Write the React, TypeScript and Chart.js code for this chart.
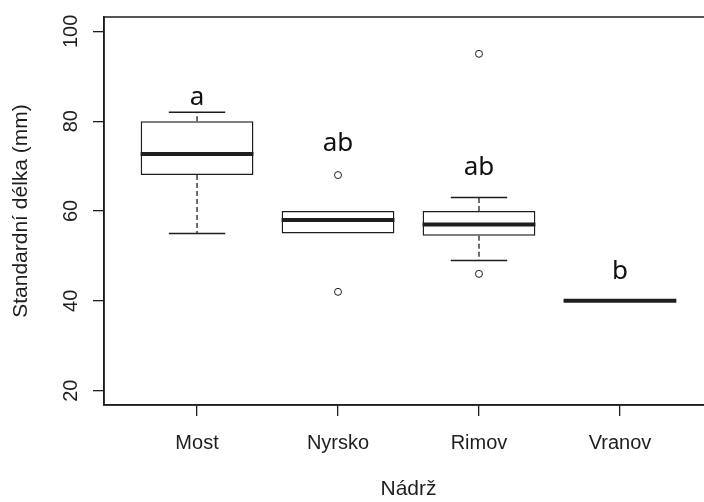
import React, { useEffect, useRef } from 'react';
import { Chart, registerables } from 'chart.js';

Chart.register(...registerables);

const categories = ['Most', 'Nyrsko', 'Rimov', 'Vranov'];
const whiskerLow = [55, 55, 49, 40];
const q1 = [68, 55, 54.5, 40];
const medians = [72.7, 58, 57, 40];
const q3 = [80, 60, 60, 40];
const whiskerHigh = [82, 60, 63, 40];
const outlierGroup = [2, 2, 3, 3];
const outlierValues = [68, 42, 95, 46];
const groupLetters = ['a', 'ab', 'ab', 'b'];
const letterValues = [83.6, 73.3, 68, 44.9];
const yTicks = [20, 40, 60, 80, 100];

const INK = '#1e1e1e';
const TICK_FONT = { family: '"Liberation Sans", Arial, sans-serif', size: 20 };
const TITLE_FONT = { family: '"Liberation Sans", Arial, sans-serif', size: 21 };

export default function App() {
  const ref = useRef<HTMLCanvasElement>(null);

  useEffect(() => {
    if (!ref.current) return;

    const boxExtras = {
      id: 'boxExtras',
      afterDatasetsDraw(chart: any) {
        const { ctx, scales, chartArea } = chart;
        const x = scales.x;
        const y = scales.y;
        ctx.save();
        ctx.strokeStyle = INK;
        categories.forEach((_, i) => {
          const v = i + 1;
          const cx = x.getPixelForValue(v);
          const capHalf = x.getPixelForValue(v + 0.2) - cx;
          const boxHalf = x.getPixelForValue(v + 0.4) - cx;
          // whiskers (dashed)
          ctx.lineWidth = 1.3;
          ctx.setLineDash([5, 3]);
          ctx.beginPath();
          ctx.moveTo(cx, y.getPixelForValue(q3[i]));
          ctx.lineTo(cx, y.getPixelForValue(whiskerHigh[i]));
          ctx.moveTo(cx, y.getPixelForValue(q1[i]));
          ctx.lineTo(cx, y.getPixelForValue(whiskerLow[i]));
          ctx.stroke();
          // caps (hidden under the box edge when whisker equals the quartile)
          ctx.setLineDash([]);
          ctx.lineWidth = 1.5;
          ctx.beginPath();
          if (whiskerHigh[i] !== q3[i]) {
            const yh = y.getPixelForValue(whiskerHigh[i]);
            ctx.moveTo(cx - capHalf, yh);
            ctx.lineTo(cx + capHalf, yh);
          }
          if (whiskerLow[i] !== q1[i]) {
            const yl = y.getPixelForValue(whiskerLow[i]);
            ctx.moveTo(cx - capHalf, yl);
            ctx.lineTo(cx + capHalf, yl);
          }
          ctx.stroke();
          // median
          ctx.lineWidth = 4;
          ctx.beginPath();
          const ym = y.getPixelForValue(medians[i]);
          ctx.moveTo(cx - boxHalf, ym);
          ctx.lineTo(cx + boxHalf, ym);
          ctx.stroke();
          // group letters
          ctx.fillStyle = '#111';
          ctx.font = '26px "Noto Sans", sans-serif';
          ctx.textAlign = 'center';
          ctx.textBaseline = 'alphabetic';
          ctx.fillText(groupLetters[i], cx, y.getPixelForValue(letterValues[i]));
        });
        // plot frame
        ctx.lineWidth = 1.5;
        ctx.strokeRect(chartArea.left, chartArea.top, chartArea.right - chartArea.left, chartArea.bottom - chartArea.top);
        ctx.restore();
      },
    };

    const chart = new Chart(ref.current, {
      type: 'bar',
      data: {
        datasets: [
          {
            type: 'bar',
            data: categories.map((_, i) => ({ x: i + 1, y: [q1[i], q3[i]] })) as any,
            backgroundColor: '#ffffff',
            borderColor: INK,
            borderWidth: 1.5,
            borderSkipped: false,
            barPercentage: 0.8,
            categoryPercentage: 1,
          } as any,
          {
            type: 'scatter',
            data: outlierValues.map((v, i) => ({ x: outlierGroup[i], y: v })),
            pointRadius: 3.5,
            pointBackgroundColor: 'rgba(0,0,0,0)',
            pointBorderColor: INK,
            pointBorderWidth: 1,
          } as any,
        ],
      },
      options: {
        animation: false,
        responsive: false,
        events: [],
        layout: { padding: { top: 15, right: 7, left: 0, bottom: 0 } },
        plugins: { legend: { display: false }, tooltip: { enabled: false } },
        scales: {
          x: {
            type: 'linear',
            min: 0.34,
            max: 4.66,
            offset: false,
            afterBuildTicks: (scale: any) => {
              scale.ticks = categories.map((_, i) => ({ value: i + 1 }));
            },
            afterFit: (scale: any) => {
              scale.height = 97;
            },
            ticks: {
              callback: (v: any) => categories[Math.round(Number(v)) - 1] ?? '',
              font: TICK_FONT,
              color: INK,
              padding: 15,
              maxRotation: 0,
              autoSkip: false,
            },
            grid: { display: true, offset: false, drawOnChartArea: false, drawTicks: true, tickLength: 11, color: INK, lineWidth: 1.3 },
            border: { display: true, color: INK, width: 1.5 },
            title: { display: true, text: 'Nádrž', font: TITLE_FONT, color: INK, padding: { top: 0, bottom: 0 } },
          },
          y: {
            type: 'linear',
            min: 16.8,
            max: 103.2,
            afterBuildTicks: (scale: any) => {
              scale.ticks = yTicks.map((v) => ({ value: v }));
            },
            afterFit: (scale: any) => {
              scale.width = 104;
            },
            ticks: {
              font: TICK_FONT,
              color: INK,
              padding: 5,
              minRotation: 90,
              maxRotation: 90,
              crossAlign: 'center',
              autoSkip: false,
            },
            grid: { display: true, drawOnChartArea: false, drawTicks: true, tickLength: 11, color: INK, lineWidth: 1.3 },
            border: { display: true, color: INK, width: 1.5 },
            title: { display: true, text: 'Standardní délka (mm)', font: TITLE_FONT, color: INK, padding: { top: 9, bottom: 0 } },
          },
        },
      } as any,
      plugins: [boxExtras],
    });

    return () => chart.destroy();
  }, []);

  return (
    <div style={{ position: 'fixed', left: 0, top: 0, width: 704, height: 502, overflow: 'hidden', background: '#fff' }}>
      <canvas ref={ref} width={720} height={502} style={{ display: 'block' }} />
    </div>
  );
}
